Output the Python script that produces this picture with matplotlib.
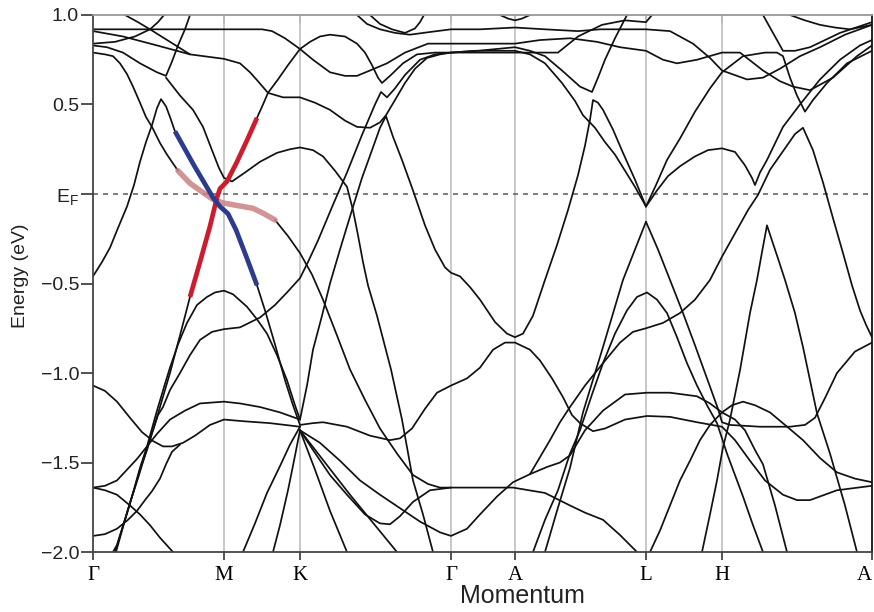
import matplotlib
matplotlib.use("Agg")
import matplotlib.pyplot as plt

plt.rcParams['font.family'] = ['Liberation Sans', 'DejaVu Sans']
plt.rcParams['mathtext.default'] = 'regular'

# ---- high-symmetry path ----
SYM_POS = [0.0, 1.31, 2.07, 3.58, 4.22, 5.53, 6.29, 7.79]
SYM_LBL = ['Γ', 'M', 'K', 'Γ', 'A', 'L', 'H', 'A']
Y_TICKS = [1.0, 0.5, 0.0, -0.5, -1.0, -1.5, -2.0]
Y_LBLS = ['1.0', '0.5', '$E_F$', '−0.5', '−1.0', '−1.5', '−2.0']

# ---- band energies (k along path, E in eV) ----
K01 = [0.00, 0.57, 1.07, 1.47, 1.69, 1.79, 1.92, 2.07, 2.20, 2.37, 2.52, 2.64, 2.77, 2.94, 3.12, 3.35, 3.58, 3.87,
       4.22, 4.47, 4.77, 5.04, 5.27, 5.53, 5.70, 5.84, 6.04, 6.29, 6.47, 6.70, 6.87, 7.00, 7.17, 7.40, 7.64, 7.79]
E01 = [0.92, 0.92, 0.92, 0.92, 0.92, 0.91, 0.87, 0.81, 0.75, 0.68, 0.66, 0.66, 0.69, 0.73, 0.79, 0.84, 0.84, 0.84,
       0.84, 0.86, 0.87, 0.85, 0.82, 0.80, 0.75, 0.73, 0.75, 0.79, 0.79, 0.69, 0.63, 0.60, 0.58, 0.65, 0.77, 0.83]

K02 = [0.00, 0.30, 0.64, 0.97, 1.31, 1.47, 1.57, 1.65, 1.75, 1.90, 2.07, 2.22, 2.37, 2.52, 2.64, 2.77, 2.87, 2.93,
       3.02, 3.12, 3.22, 3.34, 3.47, 3.58, 3.85, 4.22, 4.37, 4.52, 4.69, 4.87, 4.99, 5.05, 5.12, 5.22, 5.34]
E02 = [0.91, 0.88, 0.83, 0.78, 0.755, 0.73, 0.68, 0.63, 0.565, 0.54, 0.54, 0.51, 0.47, 0.41, 0.375, 0.37, 0.40, 0.44,
       0.525, 0.62, 0.70, 0.76, 0.78, 0.79, 0.80, 0.82, 0.80, 0.77, 0.69, 0.60, 0.57, 0.65, 0.75, 0.87, 1.00]

K03 = [0.32, 0.45, 0.57, 0.77, 0.97]
E03 = [1.00, 0.96, 0.92, 0.85, 0.78]

K04 = [0.00, 0.22, 0.42, 0.57, 0.65, 0.71]
E04 = [0.84, 0.85, 0.88, 0.92, 0.96, 1.00]

K05 = [0.00, 0.14, 0.30, 0.47, 0.64, 0.73, 0.79, 0.85, 0.92, 0.97]
E05 = [0.83, 0.82, 0.79, 0.73, 0.68, 0.66, 0.74, 0.83, 0.92, 1.00]

K06 = [0.73, 0.87, 1.00, 1.10, 1.19, 1.26, 1.31, 1.39, 1.52, 1.67, 1.84, 1.97, 2.07, 2.20, 2.30, 2.42, 2.54, 2.60,
       2.65, 2.70, 2.75, 2.84, 2.98, 3.09, 3.20, 3.30, 3.40]
E06 = [0.65, 0.55, 0.47, 0.375, 0.245, 0.145, 0.09, 0.07, 0.12, 0.18, 0.23, 0.25, 0.26, 0.245, 0.21, 0.13, 0.04, -0.09,
       -0.23, -0.38, -0.51, -0.68, -0.98, -1.26, -1.60, -1.79, -2.00]

K07 = [0.00, 0.09, 0.17, 0.25, 0.34, 0.41, 0.47, 0.53, 0.59, 0.64, 0.68, 0.73, 0.77, 0.82]
E07 = [-0.46, -0.38, -0.30, -0.19, -0.07, 0.05, 0.18, 0.29, 0.385, 0.48, 0.53, 0.49, 0.43, 0.35]

K08 = [1.64, 1.72, 1.82, 1.92, 2.00, 2.07]
E08 = [-0.51, -0.65, -0.84, -1.04, -1.18, -1.29]

K09 = [0.00, 0.12, 0.20, 0.27, 0.34, 0.40, 0.47, 0.53, 0.59, 0.67, 0.74, 0.85]
E09 = [0.79, 0.78, 0.77, 0.73, 0.67, 0.60, 0.51, 0.43, 0.375, 0.285, 0.22, 0.13]

K10 = [1.82, 1.95, 2.07, 2.19, 2.30, 2.44, 2.57, 2.72, 2.87, 3.04, 3.20, 3.35, 3.47, 3.58]
E10 = [-0.145, -0.235, -0.33, -0.45, -0.59, -0.79, -0.98, -1.15, -1.31, -1.45, -1.57, -1.62, -1.64, -1.64]

K11 = [1.64, 1.70, 1.75, 1.85, 1.95, 2.07, 2.17, 2.27, 2.37, 2.52, 2.64, 2.72, 2.79, 2.85, 2.89, 2.97, 3.10, 3.24,
       3.42, 3.58, 3.82, 4.07, 4.22, 4.37, 4.52, 4.69, 4.82, 4.90, 5.02, 5.12, 5.22, 5.32, 5.42, 5.53]
E11 = [0.425, 0.50, 0.565, 0.64, 0.72, 0.81, 0.85, 0.88, 0.89, 0.88, 0.84, 0.79, 0.72, 0.65, 0.62, 0.66, 0.73, 0.78,
       0.79, 0.79, 0.80, 0.80, 0.80, 0.78, 0.73, 0.62, 0.52, 0.44, 0.37, 0.29, 0.22, 0.13, 0.04, -0.07]

K12 = [0.22, 0.27, 0.34, 0.41, 0.47, 0.54, 0.59, 0.65, 0.70, 0.77, 0.87, 0.97, 1.07, 1.19, 1.31, 1.47, 1.67, 1.82,
       1.94, 2.07, 2.15, 2.25, 2.40, 2.54, 2.69, 2.82, 2.88, 2.94, 3.02, 3.12, 3.27, 3.42, 3.58, 3.87, 4.22, 4.52,
       4.65, 4.85, 5.09, 5.32, 5.53, 5.59]
E12 = [-2.00, -1.91, -1.78, -1.655, -1.54, -1.43, -1.335, -1.235, -1.19, -1.095, -1.00, -0.90, -0.815, -0.77, -0.755,
       -0.745, -0.69, -0.62, -0.55, -0.47, -0.38, -0.26, -0.06, 0.12, 0.33, 0.50, 0.57, 0.54, 0.59, 0.665, 0.75, 0.78,
       0.79, 0.79, 0.79, 0.79, 0.79, 0.88, 0.945, 0.97, 0.96, 1.00]

K13 = [2.07, 2.14, 2.20, 2.29, 2.37, 2.47, 2.59, 2.69, 2.79, 2.87, 2.93, 3.00, 3.09, 3.20, 3.32, 3.42, 3.52, 3.58,
       3.67, 3.77, 3.87, 4.02, 4.14, 4.22, 4.30, 4.40, 4.52, 4.64, 4.75, 4.85, 4.92, 4.97, 5.00, 5.05, 5.10, 5.20,
       5.30, 5.42, 5.53]
E13 = [-1.26, -1.07, -0.87, -0.68, -0.50, -0.31, -0.09, 0.09, 0.245, 0.37, 0.435, 0.32, 0.19, 0.02, -0.175, -0.31,
       -0.41, -0.44, -0.46, -0.52, -0.59, -0.715, -0.78, -0.80, -0.78, -0.68, -0.48, -0.285, -0.09, 0.105, 0.27,
       0.415, 0.525, 0.51, 0.47, 0.36, 0.23, 0.08, -0.07]

K15 = [0.00, 0.12, 0.24, 0.37, 0.49, 0.60, 0.70, 0.79, 0.90, 1.02, 1.17, 1.31, 1.52, 1.77, 2.07]
E15 = [-1.07, -1.10, -1.16, -1.25, -1.33, -1.38, -1.41, -1.41, -1.39, -1.35, -1.29, -1.26, -1.27, -1.28, -1.30]

K16 = [0.00, 0.12, 0.24, 0.34, 0.44, 0.54, 0.64, 0.77, 0.92, 1.07, 1.31, 1.47, 1.67, 1.87, 2.07]
E16 = [-1.64, -1.63, -1.60, -1.54, -1.48, -1.41, -1.34, -1.26, -1.21, -1.17, -1.16, -1.17, -1.19, -1.22, -1.26]

K17 = [0.00, 0.12, 0.24, 0.37, 0.47, 0.57, 0.67, 0.80]
E17 = [-1.64, -1.655, -1.68, -1.74, -1.79, -1.85, -1.92, -2.00]

K18 = [0.00, 0.12, 0.24, 0.35, 0.44, 0.52, 0.59, 0.67, 0.73, 0.79, 0.87]
E18 = [-1.91, -1.90, -1.87, -1.82, -1.77, -1.71, -1.66, -1.59, -1.51, -1.44, -1.40]

K19 = [0.20, 0.24, 0.32, 0.40, 0.47, 0.54, 0.64, 0.72, 0.77, 0.85, 0.94, 1.04, 1.14, 1.22, 1.31, 1.40, 1.54, 1.64,
       1.74, 1.84, 1.94, 2.02, 2.07]
E19 = [-2.00, -1.96, -1.82, -1.67, -1.53, -1.41, -1.21, -1.06, -0.97, -0.84, -0.72, -0.62, -0.575, -0.55, -0.54,
       -0.56, -0.63, -0.70, -0.78, -0.90, -1.04, -1.18, -1.26]

K20 = [0.97, 0.87, 0.77, 0.67, 0.60, 0.53, 0.46, 0.39, 0.31, 0.23]
E20 = [-0.575, -0.79, -1.00, -1.19, -1.32, -1.44, -1.57, -1.69, -1.84, -2.00]

K21 = [1.50, 1.62, 1.74, 1.87, 1.97, 2.07]
E21 = [-2.00, -1.84, -1.67, -1.52, -1.40, -1.30]

K22 = [1.80, 1.87, 1.95, 2.01, 2.07]
E22 = [-2.00, -1.85, -1.655, -1.49, -1.32]

K23 = [2.07, 2.22, 2.37, 2.54]
E23 = [-1.32, -1.54, -1.77, -2.00]

K24 = [2.07, 2.57, 3.04]
E24 = [-1.32, -1.68, -2.00]

K25 = [2.07, 2.20, 2.30, 2.54, 2.77, 2.97, 3.07, 3.19, 3.32, 3.44, 3.58, 3.74, 3.87, 4.00, 4.12, 4.22, 4.37, 4.47,
       4.59, 4.70, 4.79, 4.87, 5.00, 5.12, 5.32, 5.54, 5.77, 6.04, 6.29, 6.42, 6.57, 6.72, 6.90, 7.04, 7.17, 7.44, 7.79]
E25 = [-1.29, -1.28, -1.275, -1.30, -1.35, -1.375, -1.365, -1.31, -1.20, -1.11, -1.07, -1.03, -0.97, -0.87, -0.83,
       -0.83, -0.87, -0.93, -1.03, -1.135, -1.235, -1.28, -1.325, -1.31, -1.26, -1.24, -1.245, -1.275, -1.30, -1.375,
       -1.49, -1.60, -1.68, -1.71, -1.71, -1.655, -1.63]

K26 = [2.07, 2.27, 2.47, 2.67, 2.87, 3.07, 3.27, 3.47, 3.58, 3.74, 3.87, 4.04, 4.20, 4.37, 4.54, 4.67, 4.77, 4.92,
       5.10, 5.32, 5.54, 5.77, 6.04, 6.17, 6.29, 6.42, 6.52, 6.62, 6.70, 6.82, 6.94]
E26 = [-1.32, -1.39, -1.49, -1.60, -1.68, -1.755, -1.83, -1.89, -1.91, -1.87, -1.79, -1.69, -1.61, -1.565, -1.525,
       -1.50, -1.46, -1.32, -1.21, -1.12, -1.11, -1.11, -1.13, -1.17, -1.22, -1.26, -1.32, -1.43, -1.51, -1.74, -2.00]

K27 = [2.07, 2.20, 2.37, 2.54, 2.72, 2.87, 2.97, 3.07, 3.20, 3.37, 3.58, 3.87, 4.20, 4.52, 4.77, 4.92, 5.10, 5.27,
       5.44]
E27 = [-1.32, -1.43, -1.57, -1.68, -1.79, -1.84, -1.845, -1.80, -1.72, -1.655, -1.64, -1.64, -1.64, -1.67, -1.74,
       -1.78, -1.82, -1.905, -2.00]

K28 = [4.52, 4.64, 4.77, 4.90, 5.10, 5.30, 5.42, 5.53]
E28 = [-2.00, -1.77, -1.53, -1.22, -0.855, -0.48, -0.31, -0.155]

K29 = [5.53, 5.65, 5.77, 5.90, 6.02, 6.14, 6.25, 6.29, 6.37, 6.67, 6.97, 7.12, 7.22, 7.32, 7.44, 7.62, 7.79]
E29 = [-0.155, -0.31, -0.48, -0.665, -0.845, -1.03, -1.20, -1.275, -1.29, -1.30, -1.30, -1.29, -1.25, -1.14, -1.00,
       -0.88, -0.83]

K30 = [4.40, 4.52, 4.65, 4.77, 4.87, 4.99, 5.10, 5.22, 5.34, 5.44, 5.54, 5.64, 5.74, 5.84, 5.94, 6.04, 6.14, 6.24,
       6.34, 6.42, 6.50, 6.60, 6.70]
E30 = [-2.00, -1.82, -1.655, -1.45, -1.32, -1.12, -0.945, -0.78, -0.65, -0.575, -0.55, -0.59, -0.665, -0.80, -0.945,
       -1.07, -1.18, -1.28, -1.45, -1.57, -1.69, -1.85, -2.00]

K31 = [4.37, 4.47, 4.57, 4.67, 4.77, 4.92, 5.10, 5.27, 5.40, 5.53, 5.70, 5.87, 6.02, 6.17, 6.29, 6.42, 6.55, 6.65,
       6.77, 6.92, 7.02, 7.10, 7.20, 7.30, 7.40, 7.50, 7.59, 7.67, 7.73, 7.79]
E31 = [-1.565, -1.47, -1.375, -1.275, -1.19, -1.07, -0.945, -0.83, -0.77, -0.75, -0.72, -0.665, -0.59, -0.48, -0.35,
       -0.22, -0.09, -0.005, 0.135, 0.255, 0.335, 0.37, 0.245, 0.065, -0.135, -0.33, -0.51, -0.65, -0.73, -0.80]

K32 = [6.09, 6.17, 6.24, 6.30, 6.37, 6.47, 6.57, 6.64, 6.69, 6.74, 6.79, 6.85, 6.92, 7.02, 7.10, 7.17, 7.24, 7.37,
       7.52, 7.64]
E32 = [-2.00, -1.79, -1.60, -1.415, -1.26, -0.985, -0.665, -0.48, -0.325, -0.175, -0.26, -0.36, -0.48, -0.665,
       -0.855, -1.04, -1.225, -1.45, -1.74, -2.00]

K33 = [5.53, 5.64, 5.75, 5.87, 6.02, 6.15, 6.29, 6.42, 6.52, 6.59, 6.62, 6.67, 6.74, 6.90, 7.07, 7.27, 7.47, 7.67,
       7.79]
E33 = [-0.07, 0.02, 0.10, 0.155, 0.21, 0.245, 0.255, 0.235, 0.16, 0.09, 0.05, 0.12, 0.19, 0.375, 0.50, 0.64, 0.75,
       0.83, 0.86]

K34 = [5.53, 5.63, 5.74, 5.87, 6.02, 6.17, 6.29, 6.50, 6.72, 6.84, 6.90, 6.97, 7.04, 7.12, 7.20, 7.34, 7.54, 7.79]
E34 = [-0.07, 0.05, 0.19, 0.31, 0.46, 0.59, 0.68, 0.77, 0.79, 0.79, 0.77, 0.65, 0.55, 0.46, 0.525, 0.62, 0.73, 0.80]

K35 = [2.64, 2.74, 2.87, 3.02, 3.17, 3.37, 3.58, 3.87, 4.22, 4.52, 4.85, 5.07, 5.32, 5.53, 5.77, 6.00, 6.17, 6.29,
       6.54, 6.70, 6.87, 7.07, 7.27, 7.52, 7.79]
E35 = [1.00, 0.95, 0.92, 0.90, 0.89, 0.905, 0.92, 0.92, 0.93, 0.92, 0.91, 0.92, 0.92, 0.92, 0.91, 0.84, 0.76, 0.69,
       0.64, 0.65, 0.70, 0.77, 0.82, 0.89, 0.945]

K36 = [2.77, 2.87, 2.99, 3.12, 3.22, 3.27, 3.31]
E36 = [1.00, 0.95, 0.92, 0.90, 0.925, 0.96, 1.00]

K37 = [4.07, 4.15, 4.22, 4.29, 4.37]
E37 = [1.00, 0.98, 0.97, 0.98, 1.00]

K39 = [6.70, 6.77, 6.84, 6.90, 7.02, 7.17, 7.47, 7.79]
E39 = [1.00, 0.93, 0.86, 0.80, 0.80, 0.82, 0.90, 0.96]

K40 = [6.97, 7.12, 7.27, 7.42, 7.57, 7.79]
E40 = [1.00, 0.97, 0.945, 0.93, 0.92, 0.945]

K41 = [5.57, 5.67, 5.77, 5.87, 5.97, 6.07, 6.17, 6.29, 6.39, 6.50, 6.62, 6.77, 6.92, 7.10, 7.27, 7.44, 7.62, 7.79]
E41 = [-2.00, -1.88, -1.74, -1.60, -1.49, -1.375, -1.29, -1.22, -1.18, -1.16, -1.18, -1.22, -1.29, -1.375, -1.475,
       -1.555, -1.59, -1.61]

# ---- highlighted crossing bands near M ----
K_RED = [0.97, 1.07, 1.17, 1.24, 1.27, 1.34, 1.44, 1.54, 1.64]
E_RED = [-0.575, -0.38, -0.18, -0.02, 0.03, 0.07, 0.18, 0.30, 0.425]
K_BLUE = [0.82, 1.01, 1.20, 1.27, 1.35, 1.43, 1.54, 1.64]
E_BLUE = [0.35, 0.16, -0.02, -0.07, -0.11, -0.20, -0.36, -0.51]
K_PINK = [0.85, 0.97, 1.07, 1.20, 1.30, 1.40, 1.50, 1.60, 1.71, 1.82]
E_PINK = [0.13, 0.06, 0.02, -0.03, -0.05, -0.06, -0.07, -0.08, -0.11, -0.145]

BANDS = [(K01, E01), (K02, E02), (K03, E03), (K04, E04), (K05, E05), (K06, E06), (K07, E07), (K08, E08),
         (K09, E09), (K10, E10), (K11, E11), (K12, E12), (K13, E13), (K15, E15), (K16, E16), (K17, E17),
         (K18, E18), (K19, E19), (K20, E20), (K21, E21), (K22, E22), (K23, E23), (K24, E24), (K25, E25),
         (K26, E26), (K27, E27), (K28, E28), (K29, E29), (K30, E30), (K31, E31), (K32, E32), (K33, E33),
         (K34, E34), (K35, E35), (K36, E36), (K37, E37), (K39, E39), (K40, E40), (K41, E41)]

fig = plt.figure(figsize=(8.74, 6.12), dpi=100)
ax = fig.add_axes([0.1064, 0.098, 0.8913, 0.8775])

for x in SYM_POS[1:-1]:
    ax.axvline(x, color='#c4c4c4', lw=1.3, zorder=1)
ax.axhline(0.0, color='#666666', lw=1.2, dashes=(3, 3), zorder=1)

for kk, ee in BANDS:
    ax.plot(kk, ee, color='#111111', lw=1.25, solid_joinstyle='round', solid_capstyle='round', zorder=2)

ax.plot(K_PINK, E_PINK, color='#c98383', lw=4.0, alpha=0.85, solid_capstyle='round', zorder=3)
ax.plot(K_RED, E_RED, color='#cc1d2e', lw=3.4, solid_capstyle='butt', zorder=4)
ax.plot(K_BLUE, E_BLUE, color='#2d3b8f', lw=3.4, solid_capstyle='butt', zorder=4)

ax.set_xlim(SYM_POS[0], SYM_POS[-1])
ax.set_ylim(-2.0, 1.0)

ax.set_xticks(SYM_POS)
xlabels = ax.set_xticklabels(SYM_LBL, family=['Liberation Serif', 'DejaVu Serif'], fontsize=15)
xlabels[-1].set_horizontalalignment('right')
ax.tick_params(axis='x', direction='out', length=6, width=1.3, color='#444444', pad=4)
ax.set_yticks(Y_TICKS)
ax.set_yticklabels(Y_LBLS, fontsize=14, color='#222222')
ax.tick_params(axis='y', direction='out', length=9, width=1.3, color='#444444', pad=1)

top = ax.secondary_xaxis('top')
top.set_xticks(SYM_POS[1:-1])
top.tick_params(direction='in', length=6, width=1.3, color='#555555', labeltop=False)
top.spines['top'].set_visible(False)

for side in ['left', 'bottom']:
    ax.spines[side].set_color('#444444')
    ax.spines[side].set_linewidth(1.3)
ax.spines['top'].set_color('#999999')
ax.spines['top'].set_linewidth(1.3)
ax.spines['right'].set_color('#111111')
ax.spines['right'].set_linewidth(1.3)

fig.text(21 / 874, 1 - 276 / 612, 'Energy (eV)', rotation=90, ha='center', va='center',
         fontsize=14, color='#222222')
fig.text(522 / 874, 1 - 596 / 612, 'Momentum', ha='center', va='center', fontsize=18, color='#222222')

fig.savefig('out.png', dpi=100)
